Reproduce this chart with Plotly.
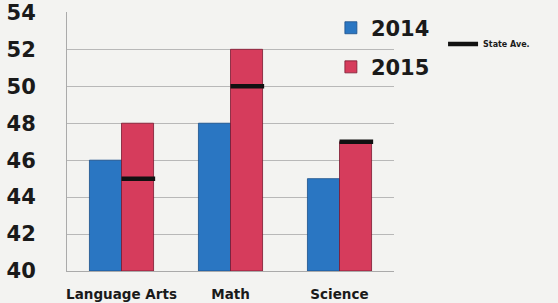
import plotly.graph_objects as go

categories = ["Language Arts", "Math", "Science"]
values_2014 = [46, 48, 45]
values_2015 = [48, 52, 47]
state_ave = [45, 50, 47]
y_ticks = [40, 42, 44, 46, 48, 50, 52, 54]

BW = 0.294
xs = list(range(len(categories)))

fig = go.Figure()
fig.add_trace(go.Bar(
    x=xs, y=[v - 40 for v in values_2014], base=40, name="2014",
    width=BW, offset=-BW,
    marker=dict(color="#2a76c2", line=dict(color="#1b4f8a", width=0.8)),
    legend="legend",
))
fig.add_trace(go.Bar(
    x=xs, y=[v - 40 for v in values_2015], base=40, name="2015",
    width=BW, offset=0,
    marker=dict(color="#d63c5c", line=dict(color="#7a1830", width=0.8)),
    legend="legend2",
))
sx, sy = [], []
for i, v in zip(xs, state_ave):
    sx += [i, i + BW * 1.05, None]
    sy += [v, v, None]
fig.add_trace(go.Scatter(
    x=sx, y=sy, mode="lines", name="State Ave.",
    line=dict(color="#111111", width=4.5),
    legend="legend3",
))

bold = dict(family="DejaVu Sans", weight="bold", color="#1a1a1a")
fig.update_layout(
    width=558, height=303,
    margin=dict(l=67, r=164, t=12, b=32, autoexpand=False),
    paper_bgcolor="#f3f3f1", plot_bgcolor="#f3f3f1",
    barmode="overlay",
    font=bold,
    xaxis=dict(
        range=[-0.5, 2.5], tickvals=xs, ticktext=categories,
        tickfont=dict(size=13.5, **bold), showgrid=False,
        showline=True, linecolor="#aaaaaa", linewidth=1, ticks="",
        ticklabelstandoff=11, zeroline=False, automargin=False,
    ),
    yaxis=dict(
        range=[40, 54.02], tickvals=y_ticks,
        tickfont=dict(size=21, **bold),
        showgrid=True, gridcolor="#b8b8b8", gridwidth=1,
        showline=True, linecolor="#aaaaaa", linewidth=1, ticks="",
        ticklabelstandoff=26, zeroline=False, automargin=False,
    ),
    legend=dict(x=0.807, y=1.017, xanchor="left", yanchor="top",
                font=dict(size=21, **bold), bgcolor="rgba(0,0,0,0)"),
    legend2=dict(x=0.807, y=0.866, xanchor="left", yanchor="top",
                 font=dict(size=21, **bold), bgcolor="rgba(0,0,0,0)"),
    legend3=dict(x=1.15, y=0.932, xanchor="left", yanchor="top",
                 font=dict(size=8, **bold), bgcolor="rgba(0,0,0,0)"),
    showlegend=True,
)

fig.write_html("out.html", config={"displayModeBar": False},
               post_script="document.body.style.margin='0';document.body.style.overflow='hidden';")
